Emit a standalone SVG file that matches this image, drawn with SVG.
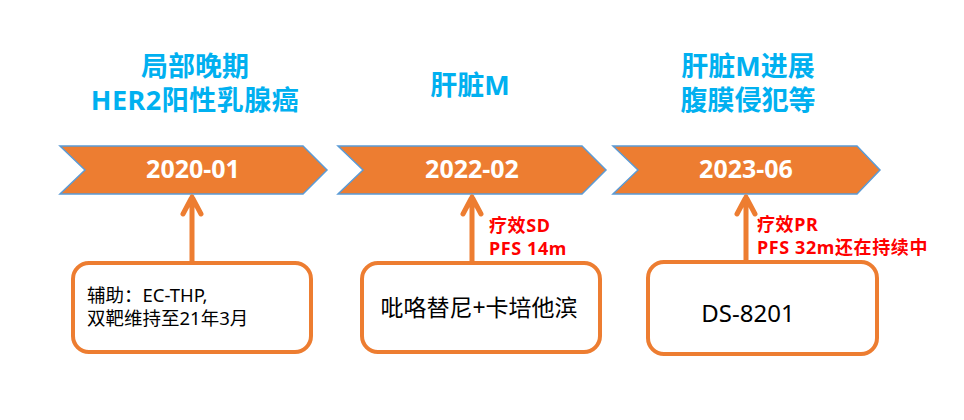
<svg xmlns="http://www.w3.org/2000/svg" width="964" height="420" viewBox="0 0 964 420">
<style>
text{font-family:"Noto Sans","Noto Sans CJK SC",sans-serif}
.title{font-size:27px;font-weight:bold;fill:#00B0F0;text-anchor:middle}
.date{font-size:25px;font-weight:bold;fill:#FFFFFF;text-anchor:middle}
.chev{fill:#ED7D31;stroke:#5B9BD5;stroke-width:1.5}
.box{fill:#FFFFFF;stroke:#ED7D31;stroke-width:4}
.arrow{fill:none;stroke:#ED7D31;stroke-width:5;stroke-linecap:round;stroke-linejoin:round}
.red{font-size:18px;font-weight:bold;fill:#FF0000;letter-spacing:0.6px}
.body{fill:#000000}
</style>
<rect width="964" height="420" fill="#FFFFFF"/>
<g id="title1">
<text class="title" x="195" y="76">局部晚期</text>
<text class="title" x="195" y="110" letter-spacing="0.5">HER2阳性乳腺癌</text>
</g>
<g id="title2">
<text class="title" x="470" y="95">肝脏M</text>
</g>
<g id="title3">
<text class="title" x="748" y="76">肝脏M进展</text>
<text class="title" x="748" y="110">腹膜侵犯等</text>
</g>
<g id="node-2020-01">
<polygon class="chev" points="60,146 303,146 327,170 303,194 60,194 85,170"/>
<text class="date" x="193" y="178">2020-01</text>
</g>
<g id="node-2022-02">
<polygon class="chev" points="338,146 582,146 606,170 582,194 338,194 363,170"/>
<text class="date" x="472" y="178">2022-02</text>
</g>
<g id="node-2023-06">
<polygon class="chev" points="613,146 857,146 880,170 857,194 613,194 638,170"/>
<text class="date" x="746" y="178">2023-06</text>
</g>
<g id="connectors">
<path class="arrow" d="M192,262 L192,197 M183,214 L192,197 L201,214"/>
<path class="arrow" d="M472,262 L472,197 M463,214 L472,197 L481,214"/>
<path class="arrow" d="M746,261 L746,197 M737,214 L746,197 L755,214"/>
</g>
<g id="label-sd">
<text class="red" x="489" y="232">疗效SD</text>
<text class="red" x="489" y="255">PFS 14m</text>
</g>
<g id="label-pr">
<text class="red" x="757" y="231">疗效PR</text>
<text class="red" x="757" y="254">PFS 32m还在持续中</text>
</g>
<g id="box1">
<rect class="box" x="73" y="263" width="238" height="89" rx="16"/>
<text class="body" x="87" y="302" font-size="18.5">辅助：EC-THP,</text>
<text class="body" x="87" y="325" font-size="18.5">双靶维持至21年3月</text>
</g>
<g id="box2">
<rect class="box" x="362" y="263" width="238" height="89" rx="16"/>
<text class="body" x="479" y="316" font-size="23" text-anchor="middle">吡咯替尼+卡培他滨</text>
</g>
<g id="box3">
<rect class="box" x="648" y="262" width="229" height="92" rx="16"/>
<text class="body" x="748" y="322" font-size="24" text-anchor="middle">DS-8201</text>
</g>
</svg>
